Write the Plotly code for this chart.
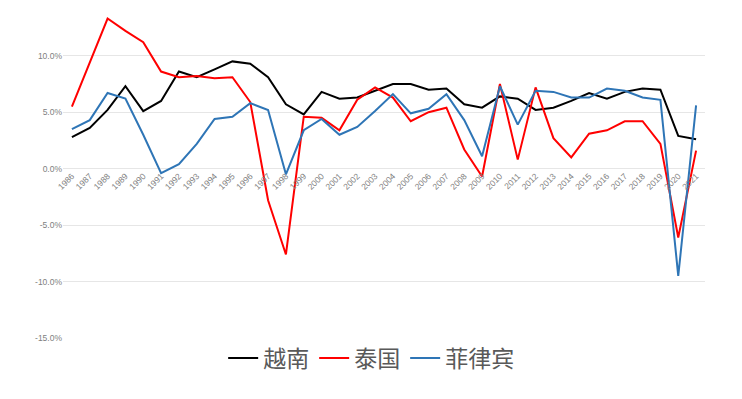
import plotly.graph_objects as go

years = [str(y) for y in range(1986, 2022)]
vietnam = [2.8, 3.6, 5.2, 7.3, 5.1, 6.0, 8.6, 8.1, 8.8, 9.5, 9.3, 8.1, 5.7, 4.8, 6.8, 6.2,
           6.3, 6.9, 7.5, 7.5, 7.0, 7.1, 5.7, 5.4, 6.4, 6.2, 5.2, 5.4, 6.0, 6.7, 6.2, 6.8,
           7.1, 7.0, 2.9, 2.6]
thailand = [5.5, 9.4, 13.3, 12.2, 11.2, 8.6, 8.1, 8.2, 8.0, 8.1, 5.9, -2.8, -7.6, 4.6, 4.5, 3.4,
            6.1, 7.2, 6.3, 4.2, 5.0, 5.4, 1.7, -0.7, 7.5, 0.8, 7.2, 2.7, 1.0, 3.1, 3.4, 4.2,
            4.2, 2.2, -6.1, 1.6]
philippines = [3.5, 4.3, 6.7, 6.2, 3.0, -0.4, 0.4, 2.2, 4.4, 4.6, 5.8, 5.2, -0.5, 3.4, 4.4, 3.0,
               3.7, 5.1, 6.6, 4.9, 5.3, 6.6, 4.3, 1.1, 7.3, 3.9, 6.9, 6.8, 6.3, 6.3, 7.1, 6.9,
               6.3, 6.1, -9.5, 5.6]
series_names = ["越南", "泰国", "菲律宾"]
colors = ["#000000", "#FF0000", "#2E75B6"]
y_ticks = [-15, -10, -5, 0, 5, 10]
y_tick_text = [f"{v:.1f}%" for v in y_ticks]
y_range = [-15, 14.23]

fig = go.Figure()
for name, vals, col in zip(series_names, [vietnam, thailand, philippines], colors):
    fig.add_trace(go.Scatter(x=years, y=vals, mode="lines", name=name,
                             line=dict(color=col, width=2)))

zero_pos = (0 - y_range[0]) / (y_range[1] - y_range[0])

fig.update_layout(
    width=742, height=399,
    margin=dict(l=55, r=45, t=0, b=69),
    paper_bgcolor="white", plot_bgcolor="white",
    font=dict(family="Noto Sans CJK SC, Noto Sans, sans-serif", color="#595959"),
    showlegend=True,
    legend=dict(orientation="h", x=0.48, xanchor="center", y=-0.061, yanchor="middle",
                font=dict(size=23, color="#595959"), itemwidth=30, tracegroupgap=0),
    xaxis=dict(type="category", range=[-0.5, 35.5], anchor="free", position=zero_pos,
               tickangle=-45, automargin=False,
               tickfont=dict(size=8.5, color="#808080", family="Liberation Sans, sans-serif"),
               showgrid=False, showline=False, ticks="", zeroline=False),
    yaxis=dict(range=y_range, tickvals=y_ticks, ticktext=y_tick_text, automargin=False,
               tickfont=dict(size=8.5, color="#808080", family="Liberation Sans, sans-serif"),
               showgrid=True, gridcolor="#e6e6e6", gridwidth=1, zeroline=True,
               zerolinecolor="#e6e6e6", zerolinewidth=1, showline=False, ticks=""),
)

fig.write_html("out.html")
